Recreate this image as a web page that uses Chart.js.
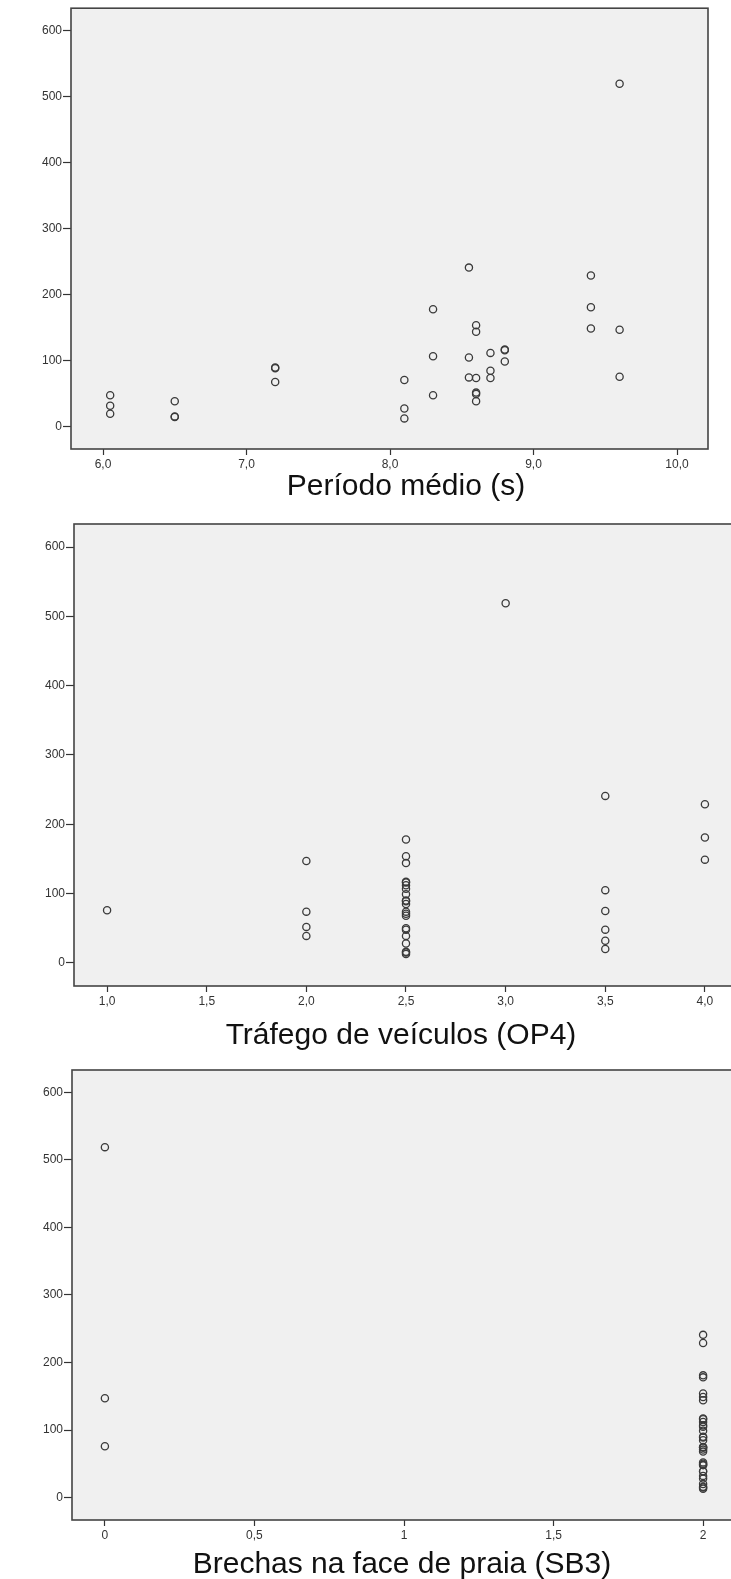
<!DOCTYPE html>
<html>
<head>
<meta charset="utf-8">
<script src="https://cdn.jsdelivr.net/npm/chart.js@4.4.1/dist/chart.umd.min.js"></script>
<style>
  html, body { margin: 0; padding: 0; background: #fff; overflow: hidden; }
  .painel { position: absolute; left: 0; }
</style>
</head>
<body>
<canvas id="c1" class="painel" width="731" height="510" style="top:0"></canvas>
<canvas id="c2" class="painel" width="760" height="545" style="top:510px"></canvas>
<canvas id="c3" class="painel" width="760" height="524" style="top:1055px"></canvas>
<script>
// one entry per observation, same order in every array
const periodo = [6.05, 6.05, 6.05, 6.5, 6.5, 6.5, 7.2, 7.2, 7.2, 8.1, 8.1, 8.1,
  8.3, 8.3, 8.3, 8.55, 8.55, 8.55, 8.6, 8.6, 8.6, 8.6, 8.6, 8.6,
  8.7, 8.7, 8.7, 8.8, 8.8, 8.8, 9.4, 9.4, 9.4, 9.6, 9.6, 9.6];
const trafego = [3.5, 3.5, 3.5, 2.0, 2.5, 2.5, 2.5, 2.5, 2.5, 2.5, 2.5, 2.5,
  2.5, 2.5, 2.5, 3.5, 3.5, 3.5, 2.5, 2.5, 2.0, 2.0, 2.5, 2.5,
  2.5, 2.5, 2.5, 2.5, 2.5, 2.5, 4.0, 4.0, 4.0, 3.0, 2.0, 1.0];
const brechas = [2, 2, 2, 2, 2, 2, 2, 2, 2, 2, 2, 2,
  2, 2, 2, 2, 2, 2, 2, 2, 2, 2, 2, 2,
  2, 2, 2, 2, 2, 2, 2, 2, 2, 0, 0, 0];
const valores = [48, 32, 20, 39, 16, 15, 90, 89, 68, 71, 28, 13,
  178, 107, 48, 241, 105, 75, 154, 144, 74, 52, 50, 39,
  112, 85, 74, 117, 116, 99, 229, 181, 149, 519, 147, 76];

const yTicks = [0, 100, 200, 300, 400, 500, 600];
const periodoTicks = [6, 7, 8, 9, 10];
const trafegoTicks = [1, 1.5, 2, 2.5, 3, 3.5, 4];
const brechasTicks = [0, 0.5, 1, 1.5, 2];

const fonte = '"Liberation Sans", Arial, sans-serif';

// grey plot area with a dark frame
const plotBox = {
  id: 'plotBox',
  beforeDraw(chart) {
    const { ctx, chartArea: a } = chart;
    ctx.save();
    ctx.fillStyle = '#f0f0f0';
    ctx.fillRect(a.left, a.top, a.right - a.left, a.bottom - a.top);
    ctx.restore();
  },
  beforeDatasetsDraw(chart) {
    const { ctx, chartArea: a } = chart;
    ctx.save();
    ctx.strokeStyle = '#444';
    ctx.lineWidth = 1.6;
    ctx.strokeRect(a.left, a.top, a.right - a.left, a.bottom - a.top);
    ctx.restore();
  }
};

// x axis caption
const caption = {
  id: 'caption',
  afterDraw(chart, args, opts) {
    const ctx = chart.ctx;
    ctx.save();
    ctx.font = '30px ' + fonte;
    ctx.fillStyle = '#111';
    ctx.textAlign = 'center';
    ctx.textBaseline = 'middle';
    ctx.fillText(opts.text, opts.x, opts.y);
    ctx.restore();
  }
};

const virgula1 = v => v.toFixed(1).replace('.', ',');
const virgula = v => String(v).replace('.', ',');

function scatter(id, xs, o) {
  const tickFont = { family: fonte, size: 12 };
  return new Chart(document.getElementById(id), {
    type: 'scatter',
    data: {
      datasets: [{
        data: xs.map((x, i) => ({ x: x, y: valores[i] })),
        pointRadius: 3.6,
        pointBorderWidth: 1.3,
        borderColor: '#3a3a3a',
        backgroundColor: 'rgba(0,0,0,0)'
      }]
    },
    options: {
      responsive: false,
      animation: false,
      layout: { padding: { top: o.top, right: o.right, left: 0, bottom: 0 } },
      plugins: {
        legend: { display: false },
        tooltip: { enabled: false },
        caption: { text: o.title, x: o.titleX, y: o.titleY }
      },
      scales: {
        x: {
          type: 'linear',
          min: o.xMin,
          max: o.xMax,
          afterBuildTicks: s => { s.ticks = o.xTicks.map(v => ({ value: v })); },
          afterFit: s => { s.height = o.xAxisHeight; },
          ticks: { callback: o.fmt, font: tickFont, color: '#333', padding: 2, maxRotation: 0, autoSkip: false },
          grid: { drawOnChartArea: false, tickLength: 6, tickColor: '#333', tickWidth: 1.2 },
          border: { display: false }
        },
        y: {
          min: -33.3,
          max: 633.3,
          afterBuildTicks: s => { s.ticks = yTicks.map(v => ({ value: v })); },
          afterFit: s => { s.width = o.left; },
          ticks: { font: tickFont, color: '#333', padding: 1 },
          grid: { drawOnChartArea: false, tickLength: 8, tickColor: '#333', tickWidth: 1.2 },
          border: { display: false }
        }
      }
    },
    plugins: [plotBox, caption]
  });
}

scatter('c1', periodo, {
  top: 7, right: 23, left: 71, xAxisHeight: 61,
  xMin: 5.777, xMax: 10.216, xTicks: periodoTicks, fmt: virgula1,
  title: 'Período médio (s)', titleX: 406, titleY: 487
});
scatter('c2', trafego, {
  top: 14, right: 22, left: 74, xAxisHeight: 69,
  xMin: 0.834, xMax: 4.166, xTicks: trafegoTicks, fmt: virgula1,
  title: 'Tráfego de veículos (OP4)', titleX: 401, titleY: 526
});
scatter('c3', brechas, {
  top: 15, right: 24, left: 72, xAxisHeight: 59,
  xMin: -0.11, xMax: 2.11, xTicks: brechasTicks, fmt: virgula,
  title: 'Brechas na face de praia (SB3)', titleX: 402, titleY: 510
});
</script>
</body>
</html>
